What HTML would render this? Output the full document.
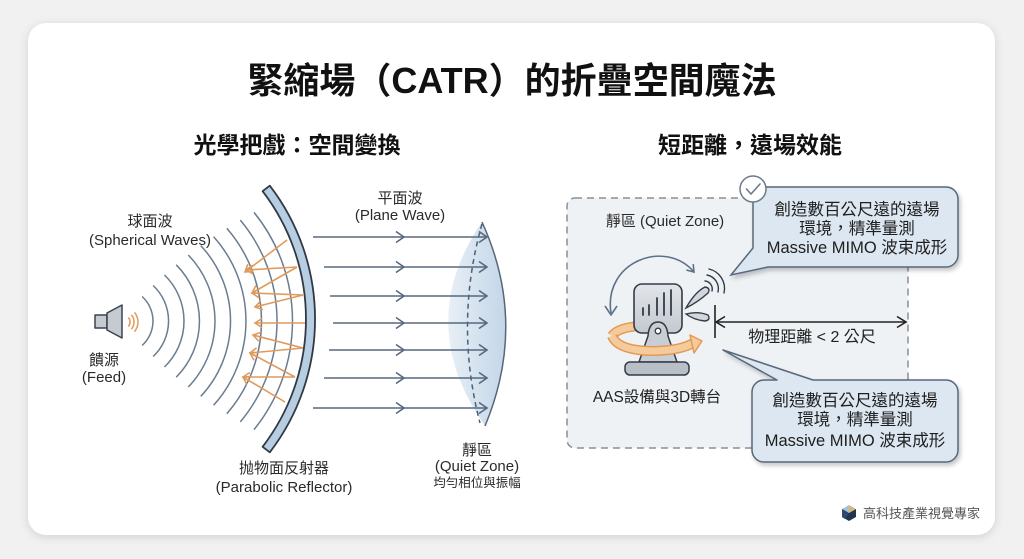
<!DOCTYPE html>
<html>
<head>
<meta charset="utf-8">
<style>
html,body{margin:0;padding:0;}
body{width:1024px;height:559px;overflow:hidden;background:#f1f1f1;position:relative;font-family:"Liberation Sans","Noto Sans CJK TC",sans-serif;}
.card{position:absolute;left:28px;top:23px;width:967px;height:512px;background:#fff;border-radius:18px;box-shadow:0 2px 10px rgba(0,0,0,0.13);}
svg{position:absolute;left:0;top:0;}
text{font-family:"Liberation Sans","Noto Sans CJK TC",sans-serif;}
</style>
</head>
<body>
<div class="card"></div>
<svg width="1024" height="559" viewBox="0 0 1024 559" xmlns="http://www.w3.org/2000/svg">
<defs>
  <marker id="oa" markerWidth="12" markerHeight="12" refX="9" refY="6" orient="auto" markerUnits="userSpaceOnUse">
    <path d="M2,1.5 L9,6 L2,10.5" fill="none" stroke="#e09a5a" stroke-width="1.6"/>
  </marker>
  <marker id="ba" markerWidth="12" markerHeight="14" refX="10" refY="7" orient="auto" markerUnits="userSpaceOnUse">
    <path d="M2,1.5 L10,7 L2,12.5" fill="none" stroke="#56697f" stroke-width="1.6"/>
  </marker>
  <marker id="ga" markerWidth="12" markerHeight="12" refX="8" refY="6" orient="auto" markerUnits="userSpaceOnUse">
    <path d="M1.5,1.5 L8,6 L1.5,10.5" fill="none" stroke="#5d7189" stroke-width="1.6"/>
  </marker>
  <marker id="ka" markerWidth="14" markerHeight="14" refX="11" refY="7" orient="auto-start-reverse" markerUnits="userSpaceOnUse">
    <path d="M2,1.5 L11,7 L2,12.5" fill="none" stroke="#222" stroke-width="1.6"/>
  </marker>
  <linearGradient id="qz" x1="448" y1="0" x2="506" y2="0" gradientUnits="userSpaceOnUse">
    <stop offset="0" stop-color="#e8eff6"/>
    <stop offset="1" stop-color="#c3d6e8"/>
  </linearGradient>
  <linearGradient id="pan" x1="0" y1="0" x2="0" y2="1">
    <stop offset="0" stop-color="#e2e5e9"/>
    <stop offset="1" stop-color="#c4c9d0"/>
  </linearGradient>
  <filter id="sh" x="-10%" y="-20%" width="130%" height="150%">
    <feDropShadow dx="2" dy="3" stdDeviation="2" flood-color="#000" flood-opacity="0.22"/>
  </filter>
</defs>

<!-- Title -->
<text x="512" y="93" text-anchor="middle" font-size="36" font-weight="bold" fill="#111">緊縮場（CATR）的折疊空間魔法</text>
<text x="297" y="153" text-anchor="middle" font-size="23" font-weight="bold" fill="#111">光學把戲：空間變換</text>
<text x="750" y="153" text-anchor="middle" font-size="23" font-weight="bold" fill="#111">短距離，遠場效能</text>

<!-- ===== LEFT DIAGRAM ===== -->
<!-- spherical waves -->
<g fill="none" stroke="#6a7c90" stroke-width="1.5">
  <path d="M142.1,296.5 A33,33 0 0 1 142.1,345.5"/>
  <path d="M153.1,285.5 A48.5,48.5 0 0 1 153.1,356.5"/>
  <path d="M164.5,275.0 A64,64 0 0 1 164.5,367.0"/>
  <path d="M176.2,264.8 A79.5,79.5 0 0 1 176.2,377.2"/>
  <path d="M188.3,255.0 A95,95 0 0 1 188.3,387.0"/>
  <path d="M200.8,245.6 A110.5,110.5 0 0 1 200.8,396.4"/>
  <path d="M213.6,236.7 A126,126 0 0 1 213.6,405.3"/>
  <path d="M226.8,228.2 A141.5,141.5 0 0 1 226.8,413.8"/>
  <path d="M240.3,220.1 A157,157 0 0 1 240.3,421.9"/>
  <path d="M254.0,212.4 A172.5,172.5 0 0 1 254.0,429.6"/>
</g>
<!-- small orange waves at feed -->
<g fill="none" stroke="#e09a5a" stroke-width="1.5">
  <path d="M128.4,317.5 A7,7 0 0 1 128.4,326.5"/>
  <path d="M131.4,314.9 A11,11 0 0 1 131.4,329.1"/>
  <path d="M134.5,312.4 A15,15 0 0 1 134.5,331.6"/>
</g>
<!-- speaker -->
<g stroke="#3a4450" stroke-width="1.5" fill="#c6cbd2" stroke-linejoin="round">
  <rect x="95" y="315" width="12" height="13"/>
  <path d="M107,313 L122,305 L122,338 L107,330 Z"/>
</g>

<!-- orange reflections -->
<g fill="none" stroke="#e09a5a" stroke-width="1.6" marker-end="url(#oa)">
  <path d="M287,240 L245,272"/>
  <path d="M297,267 L246,270"/>
  <path d="M297,267 L252,293"/>
  <path d="M303,295 L252,293"/>
  <path d="M303,295 L255,307"/>
  <path d="M305,323 L255,323"/>
  <path d="M303,348 L253,335"/>
  <path d="M303,348 L250,353"/>
  <path d="M295,377 L250,353"/>
  <path d="M295,377 L243,377"/>
  <path d="M285,402 L243,377"/>
</g>

<!-- reflector -->
<path d="M262.6,191.2 A210,210 0 0 1 262.6,446.8 L269.8,452.3 A219,219 0 0 0 269.8,185.7 Z" fill="#b7cde2" stroke="#2f3a46" stroke-width="1.8" stroke-linejoin="round"/>

<!-- quiet zone lens -->
<path d="M482,222 Q528,323 485,426 Q413,323 482,222 Z" fill="url(#qz)"/>
<path d="M482,222 Q528,323 485,426" fill="none" stroke="#56677a" stroke-width="1.5"/>
<path d="M482,224 Q454,323 480,423" fill="none" stroke="#4d5f73" stroke-width="1.5" stroke-dasharray="5 4"/>

<!-- plane wave arrows -->
<g fill="none" stroke="#56697f" stroke-width="1.6" marker-mid="url(#ba)" marker-end="url(#ba)">
  <path d="M313,237 L404,237 L487,237"/>
  <path d="M324,267 L404,267 L487,267"/>
  <path d="M330,296 L404,296 L487,296"/>
  <path d="M333,323 L404,323 L487,323"/>
  <path d="M329,350 L404,350 L487,350"/>
  <path d="M324,378 L404,378 L487,378"/>
  <path d="M313,408 L404,408 L487,408"/>
</g>

<!-- left labels -->
<g font-size="15" fill="#2a2a2a" text-anchor="middle">
  <text x="400" y="203">平面波</text>
  <text x="400" y="220">(Plane Wave)</text>
  <text x="150" y="226">球面波</text>
  <text x="150" y="245">(Spherical Waves)</text>
  <text x="104" y="365">饋源</text>
  <text x="104" y="382">(Feed)</text>
  <text x="284" y="473">抛物面反射器</text>
  <text x="284" y="492">(Parabolic Reflector)</text>
  <text x="477" y="455">靜區</text>
  <text x="477" y="471">(Quiet Zone)</text>
  <text x="477" y="487" font-size="12.5">均勻相位與振幅</text>
</g>

<!-- ===== RIGHT DIAGRAM ===== -->
<rect x="567" y="198" width="341" height="250" rx="8" fill="#eff2f5" stroke="#8a8f96" stroke-width="1.5" stroke-dasharray="7 5"/>
<text x="665" y="226" text-anchor="middle" font-size="15" fill="#2a2a2a">靜區 (Quiet Zone)</text>

<!-- curved double arrow -->
<path d="M611,313 C603,262 665,238 694,272" fill="none" stroke="#5d7189" stroke-width="1.6" marker-end="url(#ga)"/>
<path d="M605,306 L611,315 L617,306" fill="none" stroke="#5d7189" stroke-width="1.6" stroke-linejoin="round"/>

<!-- orange ring back part -->
<path d="M612,336 Q618,327 642,326" fill="none" stroke="#e39a55" stroke-width="10" stroke-linecap="butt"/>
<path d="M612,336 Q618,327 642,326" fill="none" stroke="#f6cb9c" stroke-width="7"/>

<!-- device panel -->
<rect x="634" y="284" width="48" height="49" rx="8" fill="url(#pan)" stroke="#333c47" stroke-width="1.6"/>
<g stroke="#333c47" stroke-width="1.8" stroke-linecap="round">
  <line x1="643" y1="308" x2="643" y2="315"/>
  <line x1="649" y1="305" x2="649" y2="315"/>
  <line x1="657" y1="298" x2="657" y2="315"/>
  <line x1="664" y1="293" x2="664" y2="315"/>
  <line x1="671" y1="290" x2="671" y2="315"/>
</g>
<!-- stand -->
<path d="M648,336 Q649,322 658,322 Q667,322 668,336 L677,362 L639,362 Z" fill="#c9ced5" stroke="#333c47" stroke-width="1.5" stroke-linejoin="round"/>
<circle cx="658" cy="331" r="2.8" fill="#fff" stroke="#333c47" stroke-width="1.3"/>
<rect x="625" y="362" width="64" height="13" rx="5" fill="#b9bfc7" stroke="#333c47" stroke-width="1.5"/>

<!-- orange ring front -->
<path d="M612,336 Q618,351 655,351 Q682,350 693,343" fill="none" stroke="#e39a55" stroke-width="10"/>
<path d="M612,336 Q618,351 655,351 Q682,350 693,343" fill="none" stroke="#f6cb9c" stroke-width="7"/>
<path d="M690,335 L702,341 L694,353 Z" fill="#f6cb9c" stroke="#e39a55" stroke-width="1.5" stroke-linejoin="round"/>

<!-- signal lobes -->
<g fill="#d3d7dd" stroke="#333c47" stroke-width="1.4">
  <path d="M686,308 Q695,292 705,287 Q711,288 708,293 Q698,302 686,308 Z"/>
  <path d="M686,314 Q698,311 708,315 Q711,320 705,321 Q694,320 686,314 Z"/>
</g>
<g fill="none" stroke="#333c47" stroke-width="1.4" stroke-linecap="round">
  <path d="M705,281 A8,8 0 0 1 712,291"/>
  <path d="M707,275 A14,14 0 0 1 718,292"/>
  <path d="M709,269 A20,20 0 0 1 724,293"/>
</g>

<!-- distance arrow -->
<line x1="715" y1="305" x2="715" y2="338" stroke="#222" stroke-width="1.6"/>
<line x1="716" y1="322" x2="906" y2="322" stroke="#222" stroke-width="1.6" marker-start="url(#ka)" marker-end="url(#ka)"/>
<text x="812" y="342" text-anchor="middle" font-size="16" fill="#222">物理距離 &lt; 2 公尺</text>

<text x="657" y="402" text-anchor="middle" font-size="15.5" fill="#222">AAS設備與3D轉台</text>

<!-- bubble 1 -->
<path d="M765,187 H946 A12,12 0 0 1 958,199 V255 A12,12 0 0 1 946,267 H768 L731,275 L753,248 V199 A12,12 0 0 1 765,187 Z" fill="#dce7f1" stroke="#56677a" stroke-width="1.5" filter="url(#sh)"/>
<g font-size="16.5" fill="#1e1e1e" text-anchor="middle">
  <text x="857" y="215">創造數百公尺遠的遠場</text>
  <text x="857" y="234">環境，精準量測</text>
  <text x="857" y="253">Massive MIMO 波束成形</text>
</g>
<circle cx="753" cy="189" r="13" fill="#fff" stroke="#6b7b8b" stroke-width="1.5"/>
<path d="M746.5,189 L751,194 L760,184" fill="none" stroke="#6b7b8b" stroke-width="1.6" stroke-linecap="round" stroke-linejoin="round"/>

<!-- bubble 2 -->
<path d="M764,380 H777 L723,350 L813,380 H946 A12,12 0 0 1 958,392 V450 A12,12 0 0 1 946,462 H764 A12,12 0 0 1 752,450 V392 A12,12 0 0 1 764,380 Z" fill="#dce7f1" stroke="#56677a" stroke-width="1.5" stroke-linejoin="round" filter="url(#sh)"/>
<g font-size="16.5" fill="#1e1e1e" text-anchor="middle">
  <text x="855" y="406">創造數百公尺遠的遠場</text>
  <text x="855" y="425">環境，精準量測</text>
  <text x="855" y="446">Massive MIMO 波束成形</text>
</g>

<!-- footer -->
<g>
  <path d="M849,505 L856,509 L849,513 Z" fill="#d9b774"/>
  <path d="M842,509 L849,505 L849,513 Z" fill="#a9bfd4"/>
  <path d="M842,509 L849,513 L856,509 L856,517 L849,521 L842,517 Z" fill="#1f3552"/>
  <path d="M842,509 L849,513 L845,519 L842,517 Z" fill="#2d4a6e"/>
</g>
<text x="863" y="518" font-size="13" fill="#555">高科技產業視覺專家</text>
</svg>
</body>
</html>
